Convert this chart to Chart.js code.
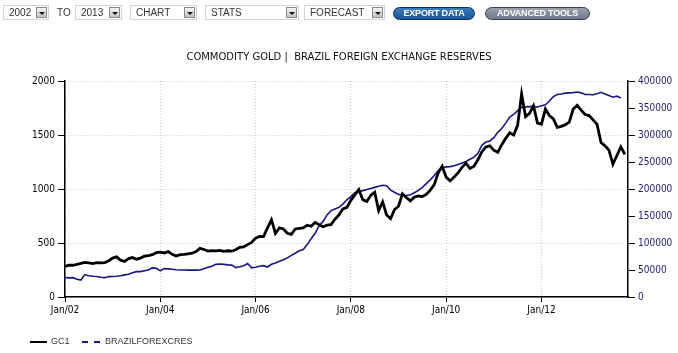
<!DOCTYPE html>
<html lang="en">
<head>
  <meta charset="UTF-8">
  <title>Commodity Gold | Brazil Foreign Exchange Reserves</title>
  <script src="https://cdn.jsdelivr.net/npm/chart.js"></script>
  <style>
    body { margin: 0; background: #fff; font-family: "Liberation Sans", Arial, sans-serif; }
    #wrap { position: relative; width: 678px; height: 353px; overflow: hidden; }
    #chart { position: absolute; left: 0; top: 0; }
    .sel { position: absolute; top: 5px; height: 15px; border: 1px solid #d4d4d4; background: #fff; box-sizing: border-box; }
    .sel span { position: absolute; left: 5px; top: 1px; font-size: 10px; line-height: 12px; color: #333; }
    .sel i { position: absolute; right: 1px; top: 1px; width: 11px; height: 11px; box-sizing: border-box;
             border: 1px solid #8a8a8a; background: linear-gradient(#f4f4f4, #c4c4c4); }
    .sel i:after { content: ""; position: absolute; left: 2px; top: 4px; border-left: 3px solid transparent;
                   border-right: 3px solid transparent; border-top: 3px solid #111; }
    .to { position: absolute; top: 7px; font-size: 10px; line-height: 12px; color: #333; }
    .btn { position: absolute; top: 7px; height: 13px; border-radius: 7px; box-sizing: border-box; color: #fff;
           font-size: 9px; font-weight: bold; line-height: 11px; text-align: center; letter-spacing: -0.2px; }
    .btn.blue { background: linear-gradient(#3a7cc0, #1a5594); border: 1px solid #0e2f55; }
    .btn.gray { background: linear-gradient(#98a1ae, #6f7988); border: 1px solid #3b414c; }
    .legend { position: absolute; top: 335px; font-size: 9px; line-height: 12px; color: #333; }
    .legend b { position: absolute; top: 6px; width: 17px; }
  </style>
</head>
<body>
  <div id="wrap">
    <canvas id="chart" width="678" height="353"></canvas>

    <div class="sel" style="left:3px;width:46px"><span>2002</span><i></i></div>
    <span class="to" style="left:57px">TO</span>
    <div class="sel" style="left:75px;width:47px"><span>2013</span><i></i></div>
    <div class="sel" style="left:130px;width:67px"><span>CHART</span><i></i></div>
    <div class="sel" style="left:205px;width:94px"><span>STATS</span><i></i></div>
    <div class="sel" style="left:304px;width:81px"><span>FORECAST</span><i></i></div>
    <div class="btn blue" style="left:393px;width:82px">EXPORT DATA</div>
    <div class="btn gray" style="left:485px;width:105px">ADVANCED TOOLS</div>

    <div class="legend" style="left:30px">
      <b style="left:0;border-top:2.5px solid #000"></b>
      <span style="position:absolute;left:21px">GC1</span>
    </div>
    <div class="legend" style="left:82px">
      <b style="left:0;width:18px;border-top:2px dashed #1a1a8c"></b>
      <span style="position:absolute;left:23px;white-space:nowrap">BRAZILFOREXCRES</span>
    </div>
  </div>

  <script>
    // month index 0 = Jan 2002
    const tickMonths = [0, 24, 48, 72, 96, 120];
    const tickLabels = ['Jan/02', 'Jan/04', 'Jan/06', 'Jan/08', 'Jan/10', 'Jan/12'];

    // GC1 gold, USD/oz, monthly Jan 2002 - Oct 2013
    const goldGC1 = [
      282, 295, 294, 302, 312, 320, 315, 310, 318, 316, 318, 335,
      360, 372, 340, 330, 355, 365, 350, 360, 378, 382, 392, 410,
      415, 408, 420, 395, 380, 392, 395, 400, 405, 420, 450, 440,
      425, 430, 428, 432, 422, 428, 425, 438, 460, 465, 485, 505,
      545, 560, 560, 640, 715, 590, 640, 630, 590, 580, 630, 635,
      640, 665, 655, 690, 670, 650, 665, 670, 720, 760, 815, 830,
      895, 945, 995, 900, 885, 940, 970, 800, 880, 760, 725, 810,
      840, 955, 920, 890, 925, 935, 930, 950, 990, 1040, 1150, 1210,
      1110, 1075, 1110, 1150, 1200, 1240, 1190, 1210, 1270, 1345, 1390, 1400,
      1360, 1340, 1410, 1470, 1520, 1500, 1590, 1880, 1670, 1700, 1770, 1610,
      1600, 1740, 1680, 1650, 1570, 1580, 1595, 1620, 1740, 1775, 1730, 1690,
      1680, 1640, 1600, 1430, 1400, 1360, 1230, 1310, 1390, 1320
    ];

    // Brazil foreign exchange reserves, USD millions, monthly Jan 2002 - Sep 2013
    const brazilReserves = [
      36000, 35500, 35800, 33000, 31500, 41500, 39500, 38500, 38000, 36500, 35800, 37800,
      38000, 38500, 39500, 41000, 42000, 45000, 47000, 47000, 48500, 50000, 54000, 53000,
      48500, 52500, 52000, 51500, 50500, 50000, 50000, 49800, 49700, 49800, 50000, 52500,
      55000, 57000, 60500, 61000, 60500, 59500, 59000, 54500, 56000, 58000, 62000, 54000,
      55000, 57000, 58000, 55500, 60500, 63000, 66000, 69000, 72500, 77000, 81000, 85500,
      88000, 97000, 108000, 118000, 132000, 140000, 152000, 160000, 163000, 166000, 172000, 180000,
      186000, 193000, 195000, 197000, 199000, 201000, 203000, 205000, 207000, 206000, 198000, 194000,
      190000, 188500, 188000, 189500, 193000, 197500, 203000, 210000, 217000, 225000, 234000, 239000,
      241000, 241500, 243000, 245500, 248000, 251000, 255000, 259000, 266000, 281000, 287000, 289000,
      295000, 305000, 312000, 322000, 333000, 338000, 345000, 351000, 352000, 352500, 353000, 352000,
      354000, 356000, 363000, 371000, 375000, 376000, 377500, 378000, 378500, 379500, 378000, 375000,
      375000, 374500, 376500, 379000, 376000, 373000, 370000, 372000, 368500
    ];

    const axisFont = { family: '"DejaVu Sans Condensed", "DejaVu Sans", sans-serif', size: 10 };

    new Chart(document.getElementById('chart'), {
      type: 'line',
      data: {
        datasets: [
          {
            label: 'GC1',
            data: goldGC1.map((v, i) => ({ x: i, y: v })),
            borderColor: '#000',
            borderWidth: 2.8,
            pointRadius: 0,
            tension: 0,
            yAxisID: 'y'
          },
          {
            label: 'BRAZILFOREXCRES',
            data: brazilReserves.map((v, i) => ({ x: i, y: v })),
            borderColor: '#16167f',
            borderWidth: 1.6,
            pointRadius: 0,
            tension: 0,
            yAxisID: 'y1'
          }
        ]
      },
      options: {
        responsive: false,
        animation: false,
        layout: { padding: 0 },
        plugins: {
          legend: { display: false },
          tooltip: { enabled: false },
          title: {
            display: true,
            text: 'COMMODITY GOLD |  BRAZIL FOREIGN EXCHANGE RESERVES',
            color: '#111',
            font: { family: '"DejaVu Sans", sans-serif', size: 10, weight: 'normal' },
            padding: { top: 51, bottom: 18 }
          }
        },
        scales: {
          x: {
            type: 'linear',
            min: 0,
            max: 141.8,
            afterBuildTicks: s => { s.ticks = tickMonths.map(v => ({ value: v })); },
            afterFit: s => { s.height = 56; },
            ticks: {
              color: '#000',
              font: axisFont,
              padding: 2,
              maxRotation: 0,
              callback: v => tickLabels[tickMonths.indexOf(v)]
            },
            grid: { color: '#c8c8c8', tickColor: '#000', tickLength: 5, tickBorderDash: [] },
            border: { color: '#000', width: 1.5, dash: [1, 2] }
          },
          y: {
            position: 'left',
            min: 0,
            max: 2000,
            afterFit: s => { s.width = 65; },
            ticks: { stepSize: 500, color: '#000', font: axisFont, padding: 3, callback: v => String(v) },
            grid: { color: '#c8c8c8', tickColor: '#000', tickLength: 7, tickBorderDash: [] },
            border: { color: '#000', width: 1.5, dash: [1, 2] }
          },
          y1: {
            position: 'right',
            min: 0,
            max: 400000,
            afterFit: s => { s.width = 50; },
            ticks: { stepSize: 50000, color: '#1c1c70', font: axisFont, padding: 3, callback: v => String(v) },
            grid: { drawOnChartArea: false, tickColor: '#000', tickLength: 7 },
            border: { color: '#000', width: 1.5 }
          }
        }
      }
    });
  </script>
</body>
</html>
